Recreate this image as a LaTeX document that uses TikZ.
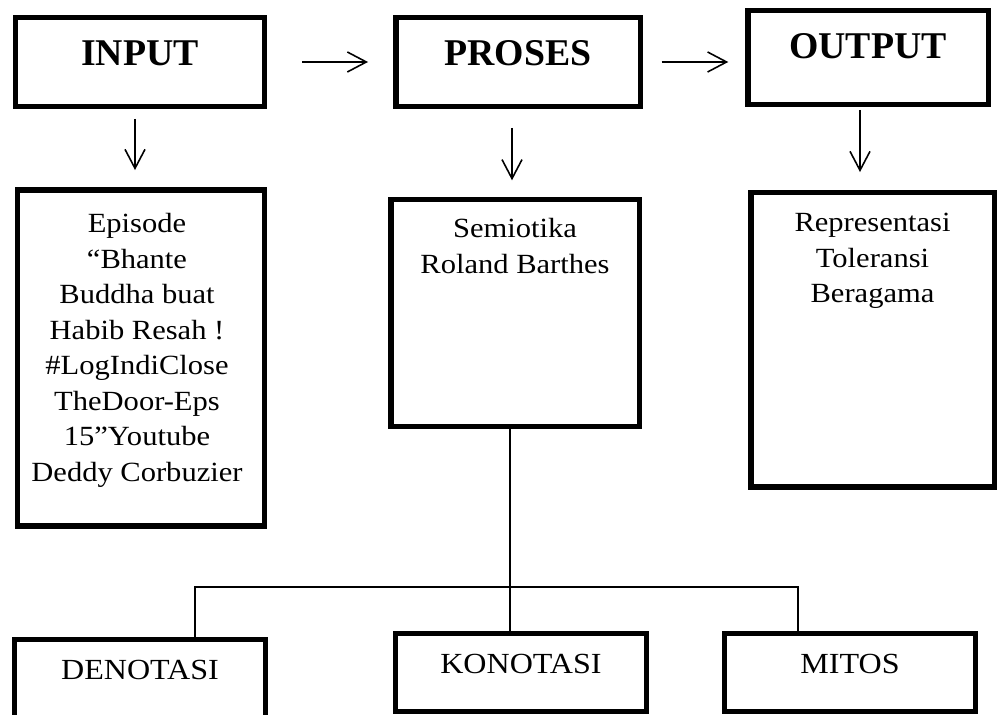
\documentclass[tikz,border=0pt]{standalone}
\usepackage{fontspec}
\setmainfont{Liberation Serif}[FakeStretch=1.1]
\newfontfamily\headfont{Liberation Serif}
\usetikzlibrary{positioning,arrows.meta}

\tikzset{
  box/.style={draw, line width=3.1pt, inner sep=0pt, outer sep=0pt},
  title/.style={inner sep=0pt, font=\headfont\bfseries\fontsize{21.5}{25}\selectfont},
  body/.style={inner sep=0pt, align=center, font=\fontsize{15.8}{20.2}\selectfont},
  tag/.style={inner sep=0pt, font=\fontsize{16.6}{20}\selectfont},
  arr/.style={line width=0.9pt, -{Straight Barb[length=0.38cm,width=0.4cm]}},
  link/.style={line width=0.9pt},
}

\begin{document}
\begin{tikzpicture}[x=0.02cm, y=-0.02cm]
  \useasboundingbox (0,0) rectangle (997,715);
  \clip (0,0) rectangle (997,715);

  % Top row
  \node[box, minimum width=4.97cm, minimum height=1.77cm] (input) at (140,62) {};
  \node[box, minimum width=4.89cm, minimum height=1.77cm] (proses) at (518,62) {};
  \node[box, minimum width=4.81cm, minimum height=1.87cm] (output) at (868,57.5) {};
  \node[title, below=0.445cm of input.north] (inputlbl) {INPUT};
  \node[title, below=0.445cm of proses.north] (proseslbl) {PROSES};
  \node[title, below=0.445cm of output.north] (outputlbl) {OUTPUT};

  % Second row
  \node[box, minimum width=4.93cm, minimum height=6.73cm] (inbox) at (141,358) {};
  \node[box, minimum width=4.97cm, minimum height=4.53cm] (semiotik) at (515,313) {};
  \node[box, minimum width=4.87cm, minimum height=5.89cm] (hasil) at (872.5,340) {};
  \node[body, below=0.465cm of inbox.north, xshift=-0.08cm] (inboxtxt)
    {Episode\\“Bhante\\Buddha buat\\Habib Resah !\\\#LogIndiClose\\TheDoor-Eps\\15”Youtube\\Deddy Corbuzier};
  \node[body, below=0.37cm of semiotik.north] (semiotiktxt) {Semiotika\\Roland Barthes};
  \node[body, below=0.405cm of hasil.north] (hasiltxt) {Representasi\\Toleransi\\Beragama};

  % Bottom row
  \node[box, minimum width=5.01cm, minimum height=2.35cm] (denotasi) at (140,698.25) {};
  \node[box, minimum width=5.02cm, minimum height=1.56cm] (konotasi) at (521,672.4) {};
  \node[box, minimum width=5.02cm, minimum height=1.56cm] (mitos) at (850,672.4) {};
  \node[tag, below=0.41cm of denotasi.north] (denotasitxt) {DENOTASI};
  \node[tag, below=0.4cm of konotasi.north] (konotasitxt) {KONOTASI};
  \node[tag, below=0.4cm of mitos.north] (mitostxt) {MITOS};

  % Arrows
  \draw[arr, shorten <=0.76cm, shorten >=0.555cm] (input) -- (proses);
  \draw[arr, shorten <=0.43cm, shorten >=0.39cm] (proses.east) -- (proses.east -| output.west);
  \draw[arr, shorten <=0.255cm, shorten >=0.395cm] ([xshift=-0.1cm]input.south) -- ([xshift=-0.1cm]input.south |- inbox.north);
  \draw[arr, shorten <=0.435cm, shorten >=0.39cm] ([xshift=-0.12cm]proses.south) -- ([xshift=-0.12cm]proses.south |- semiotik.north);
  \draw[arr, shorten <=0.115cm, shorten >=0.415cm] ([xshift=-0.16cm]output.south) -- ([xshift=-0.16cm]output.south |- hasil.north);

  % Tree lines
  \coordinate (hub) at (510,587);
  \coordinate (leftend) at (195,587);
  \coordinate (rightend) at (798,587);
  \draw[link] (semiotik.south -| hub) -- (konotasi.north -| hub);
  \draw[link] (denotasi.north -| leftend) -- (leftend) -- (rightend) -- (mitos.north -| rightend);
\end{tikzpicture}
\end{document}
